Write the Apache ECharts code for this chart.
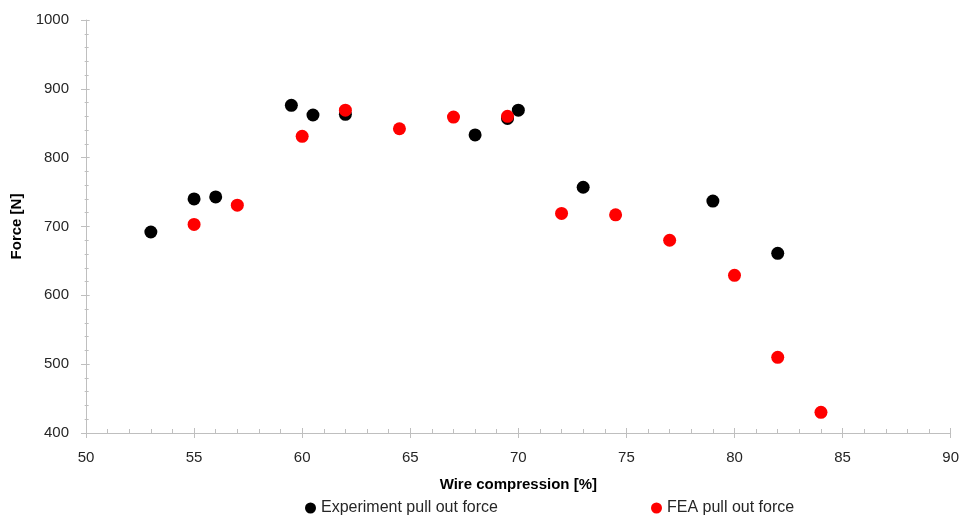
<!DOCTYPE html>
<html>
<head>
<meta charset="utf-8">
<script src="https://cdn.jsdelivr.net/npm/echarts@6/dist/echarts.min.js"></script>
<style>html,body{margin:0;padding:0;background:#fff}#c{width:962px;height:520px}</style>
</head>
<body>
<div id="c"></div>
<script>
const expX = [53, 55, 56, 59.5, 60.5, 62, 68, 69.5, 70, 73, 79, 82];
const expY = [692, 740, 743, 876, 862, 863, 833, 857, 869, 757, 737, 661];
const feaX = [55, 57, 60, 62, 64.5, 67, 69.5, 72, 74.5, 77, 80, 82, 84];
const feaY = [703, 731, 831, 869, 842, 859, 860, 719, 717, 680, 629, 510, 430];
const seriesNames = ['Experiment pull out force', 'FEA pull out force'];
const xTitle = 'Wire compression [%]';
const yTitle = 'Force [N]';

const FONT = 'Liberation Sans';
const AX = '#BFBFBF';
const TXT = '#262626';
const gridW = 866, gridH = 413;

const xBase = {type: 'value', min: 50, max: 90, interval: 5};
const yBase = {type: 'value', min: 400, max: 1000, interval: 100};
const plain = v => String(v);

const chart = echarts.init(document.getElementById('c'), null, {renderer: 'canvas'});
chart.setOption({
  animation: false,
  backgroundColor: '#fff',
  textStyle: {fontFamily: FONT},
  grid: {left: 86, right: 10, top: 20, bottom: 87, containLabel: false},
  xAxis: [
    Object.assign({}, xBase, {
      position: 'bottom',
      name: xTitle, nameLocation: 'middle', nameGap: 44,
      nameTextStyle: {fontFamily: FONT, fontSize: 15, fontWeight: 'bold', color: '#000'},
      axisLine: {show: true, lineStyle: {color: AX, width: 1}},
      axisTick: {show: true, inside: false, length: 5, lineStyle: {color: AX}},
      minorTick: {show: false},
      axisLabel: {fontFamily: FONT, fontSize: 15, color: TXT, margin: 17, formatter: plain},
      splitLine: {show: false}
    }),
    Object.assign({}, xBase, {
      position: 'top', offset: -gridH,
      axisLine: {show: false},
      axisTick: {show: true, inside: false, length: 5, lineStyle: {color: AX}},
      minorTick: {show: true, splitNumber: 5, length: 4, lineStyle: {color: AX}},
      axisLabel: {show: false},
      splitLine: {show: false}
    })
  ],
  yAxis: [
    Object.assign({}, yBase, {
      position: 'left',
      name: yTitle, nameLocation: 'middle', nameGap: 58, nameRotate: 90,
      nameTextStyle: {fontFamily: FONT, fontSize: 15, fontWeight: 'bold', color: '#000'},
      axisLine: {show: true, lineStyle: {color: AX, width: 1}},
      axisTick: {show: true, inside: false, length: 5, lineStyle: {color: AX}},
      minorTick: {show: false},
      axisLabel: {fontFamily: FONT, fontSize: 15, color: TXT, margin: 17, formatter: plain},
      splitLine: {show: false}
    }),
    Object.assign({}, yBase, {
      position: 'right', offset: -gridW,
      axisLine: {show: false},
      axisTick: {show: true, inside: false, length: 5, lineStyle: {color: AX}},
      minorTick: {show: true, splitNumber: 5, length: 4, lineStyle: {color: AX}},
      axisLabel: {show: false},
      splitLine: {show: false}
    })
  ],
  legend: [
    {data: [seriesNames[0]], left: 305, top: 500, padding: 0, itemWidth: 11, itemHeight: 11, itemGap: 10,
     icon: 'circle', textStyle: {fontFamily: FONT, fontSize: 16, color: TXT}},
    {data: [seriesNames[1]], left: 651, top: 500, padding: 0, itemWidth: 11, itemHeight: 11, itemGap: 10,
     icon: 'circle', textStyle: {fontFamily: FONT, fontSize: 16, color: TXT}}
  ],
  series: [
    {name: seriesNames[0], type: 'scatter', xAxisIndex: 0, yAxisIndex: 0, symbol: 'circle', symbolSize: 13,
     itemStyle: {color: '#000000', opacity: 1}, data: expX.map((x, i) => [x, expY[i]])},
    {name: seriesNames[1], type: 'scatter', xAxisIndex: 0, yAxisIndex: 0, symbol: 'circle', symbolSize: 13,
     itemStyle: {color: '#FF0000', opacity: 1}, data: feaX.map((x, i) => [x, feaY[i]])}
  ]
});
</script>
</body>
</html>
